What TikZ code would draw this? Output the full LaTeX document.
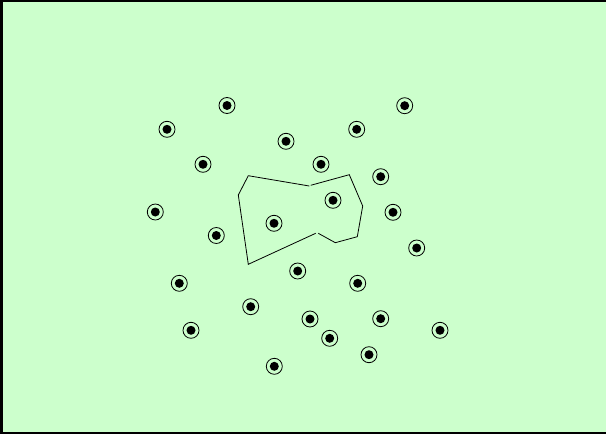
\documentclass[tikz,border=0pt]{standalone}
\definecolor{fondo}{RGB}{204,255,204}
\tikzset{
  punto/.style={circle, draw, line width=0.8pt, minimum size=16pt, inner sep=0pt},
  nucleo/.style={circle, fill=black, minimum size=9pt, inner sep=0pt}
}
\begin{document}
\begin{tikzpicture}[x=1pt, y=-1pt]
    % Fondo y bordes
    \useasboundingbox (0,0) rectangle (606,434);
    \fill[fondo] (0,0) rectangle (606,434);
    \fill[black] (0,0) rectangle (606,2);
    \fill[black] (0,0) rectangle (3,434);
    \fill[black] (0,432) rectangle (606,434);

    % Puntos
    \foreach \x/\y [count=\i] in {227/105.5, 404.7/105.7, 167/129.3, 356.7/129.3, 286/141.3,
        203/164.3, 321/164.3, 380.7/176.7, 333/200.3, 155.3/212, 393/212.3, 274/223.3,
        216.3/235.5, 416.7/248, 297.7/271, 179.3/283.3, 357.7/283.3, 250.7/306.7,
        310/319, 380.7/318.7, 191/330.3, 440/330.3, 329.7/338.3, 369/354.7, 274.3/366.3}{
        \node[punto] (p\i) at (\x,\y) {};
        \node[nucleo] at (p\i) {};
    }

    % Contorno
    \coordinate (a) at (248.3,175.7);
    \coordinate (b) at (309.3,186);
    \coordinate (c) at (310.7,185.3);
    \coordinate (d) at (349.3,174.7);
    \coordinate (e) at (362.7,206);
    \coordinate (f) at (357.3,236.7);
    \coordinate (g) at (335.3,242.7);
    \coordinate (h) at (318.3,233.3);
    \coordinate (i) at (315.7,233.3);
    \coordinate (j) at (248.3,264.3);
    \coordinate (k) at (238.3,195);
    \draw[line width=0.8pt] (c) -- (d) -- (e) -- (f) -- (g) -- (h);
    \draw[line width=0.8pt] (i) -- (j) -- (k) -- (a) -- (b);
\end{tikzpicture}
\end{document}
